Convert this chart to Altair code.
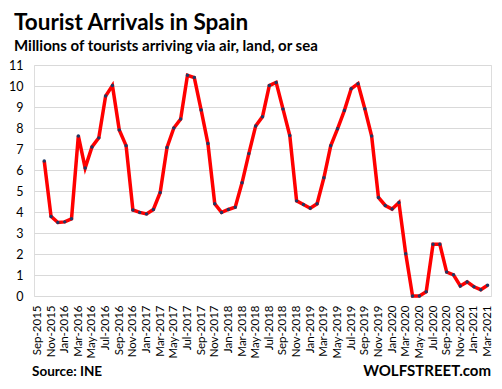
import altair as alt
import pandas as pd

# Category labels (Sep-2015 .. Mar-2021), first slot has no data
mon_names = ["Jan", "Feb", "Mar", "Apr", "May", "Jun", "Jul", "Aug", "Sep", "Oct", "Nov", "Dec"]
months = []
y, m = 2015, 9
while (y, m) <= (2021, 3):
    months.append(f"{mon_names[m-1]}-{y}")
    m += 1
    if m > 12:
        m = 1
        y += 1

# Millions of tourists, Oct-2015 .. Mar-2021
values = [None,
          6.43, 3.79, 3.50, 3.53, 3.68, 7.62, 6.10, 7.10, 7.53, 9.52, 10.02, 7.91,
          7.16, 4.10, 3.98, 3.91, 4.12, 4.93, 7.07, 8.00, 8.43, 10.51, 10.40, 8.86,
          7.26, 4.39, 3.98, 4.12, 4.23, 5.39, 6.78, 8.10, 8.54, 10.02, 10.17, 8.91,
          7.64, 4.53, 4.36, 4.18, 4.39, 5.63, 7.15, 7.96, 8.83, 9.87, 10.11, 8.92,
          7.62, 4.69, 4.31, 4.14, 4.45, 2.01, 0.0, 0.0, 0.20, 2.46, 2.46, 1.14,
          1.01, 0.48, 0.67, 0.44, 0.30, 0.51]

shown_labels = months[::2]
y_ticks = list(range(0, 12))

df = pd.DataFrame({"month": months, "value": values})

FONT = "Lato"

x_enc = alt.X("month:O", sort=months,
              scale=alt.Scale(type="point", domain=months, padding=0.5),
              axis=alt.Axis(values=shown_labels, labelAngle=270, title=None,
                            grid=False, ticks=False, domain=False,
                            labelFont=FONT, labelFontSize=11.5, labelColor="black",
                            labelPadding=9, labelBaseline="middle"))
y_enc = alt.Y("value:Q", scale=alt.Scale(domain=[0, 11], nice=False),
              axis=alt.Axis(values=y_ticks, title=None, grid=True, gridColor="#D9D9D9",
                            gridWidth=1.2, domain=False, ticks=False,
                            labelFont=FONT, labelFontSize=12.5, labelColor="black",
                            labelPadding=11))

base = alt.Chart(df).encode(x=x_enc, y=y_enc)
line = base.mark_line(color="#FF0000", strokeWidth=3.5)
pts = base.mark_circle(color="#1F3864", size=12, opacity=1)

notes = pd.DataFrame({"left": ["Source: INE"], "right": ["WOLFSTREET.com"]})
src = alt.Chart(notes).mark_text(align="left", baseline="alphabetic", font=FONT,
                                 fontWeight="bold", fontSize=13.5, color="black").encode(
    text="left:N", x=alt.value(-2), y=alt.value(311))
brand = alt.Chart(notes).mark_text(align="right", baseline="alphabetic", font=FONT,
                                   fontWeight="bold", fontSize=15, color="black").encode(
    text="right:N", x=alt.value(457), y=alt.value(311))

chart = alt.layer(line, pts, src, brand).properties(
    width=457, height=231,
    autosize=alt.AutoSizeParams(type="none"),
    padding={"left": 26, "top": 57, "right": 3, "bottom": 86},
    title=alt.TitleParams(
        text="Tourist Arrivals in Spain",
        subtitle="Millions of tourists arriving via air, land, or sea",
        anchor="start", frame="group", dx=-20, offset=5,
        font=FONT, fontSize=22.5, fontWeight="bold", color="black",
        subtitleFont=FONT, subtitleFontSize=15, subtitleFontWeight="bold",
        subtitleColor="black", subtitlePadding=5),
).configure_view(stroke=None).configure(background="white")

chart.save("out.html", embed_options={"renderer": "svg", "actions": False})
